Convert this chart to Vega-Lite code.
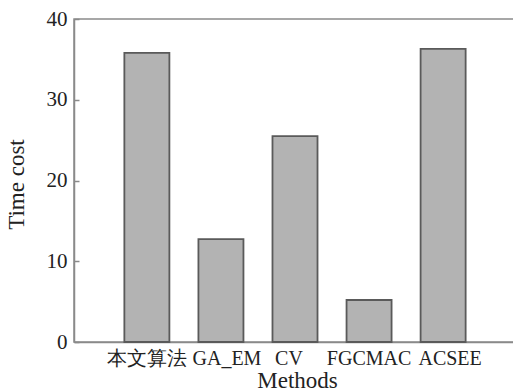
{
  "$schema": "https://vega.github.io/schema/vega-lite/v6.json",
  "autosize": {"type": "none"},
  "padding": {"left": 74, "top": 19, "right": 0, "bottom": 50},
  "width": 442,
  "height": 323,
  "background": "white",
  "config": {
    "view": {"stroke": "#8a8a8a", "strokeWidth": 1.5},
    "font": "Liberation Serif"
  },
  "data": {
    "values": [
      {"method": "本文算法", "time": 35.8},
      {"method": "GA_EM", "time": 12.75},
      {"method": "CV", "time": 25.5},
      {"method": "FGCMAC", "time": 5.2},
      {"method": "ACSEE", "time": 36.3}
    ]
  },
  "mark": {"type": "bar", "fill": "#b3b3b3", "stroke": "#5a5a5a", "strokeWidth": 1.8},
  "encoding": {
    "x": {
      "field": "method",
      "type": "nominal",
      "sort": null,
      "scale": {"paddingInner": 0.392, "paddingOuter": 0.68},
      "axis": {
        "title": "Methods",
        "titleFont": "Liberation Serif",
        "titleFontSize": 23,
        "titleFontWeight": "normal",
        "titleColor": "#222222",
        "titleX": 223,
        "titleY": 45,
        "titleBaseline": "alphabetic",
        "titleAnchor": null,
        "labelAngle": 0,
        "labelFont": "Liberation Serif, serif",
        "labelFontSize": 20,
        "labelColor": "#222222",
        "labelPadding": 11,
        "labelBaseline": "top",
        "labelOverlap": false,
        "labelOffset": {"expr": "datum.value === 'GA_EM' ? 6 : datum.value === 'CV' ? -6 : datum.value === 'ACSEE' ? 7 : 0"},
        "tickSize": -5,
        "tickColor": "#8a8a8a",
        "tickWidth": 1.5,
        "domainColor": "#8a8a8a",
        "domainWidth": 1.5,
        "grid": false
      }
    },
    "y": {
      "field": "time",
      "type": "quantitative",
      "scale": {"domain": [0, 40]},
      "axis": {
        "title": "Time cost",
        "values": [0, 10, 20, 30, 40],
        "titleFont": "Liberation Serif",
        "titleFontSize": 23,
        "titleFontWeight": "normal",
        "titleColor": "#222222",
        "titleX": -58,
        "titleY": 165,
        "titleAngle": -90,
        "titleAlign": "center",
        "titleBaseline": "middle",
        "labelFont": "Liberation Serif, serif",
        "labelFontSize": 21,
        "labelColor": "#222222",
        "labelPadding": 12,
        "tickSize": -5,
        "tickColor": "#8a8a8a",
        "tickWidth": 1.5,
        "domainColor": "#8a8a8a",
        "domainWidth": 1.5,
        "grid": false
      }
    }
  }
}
